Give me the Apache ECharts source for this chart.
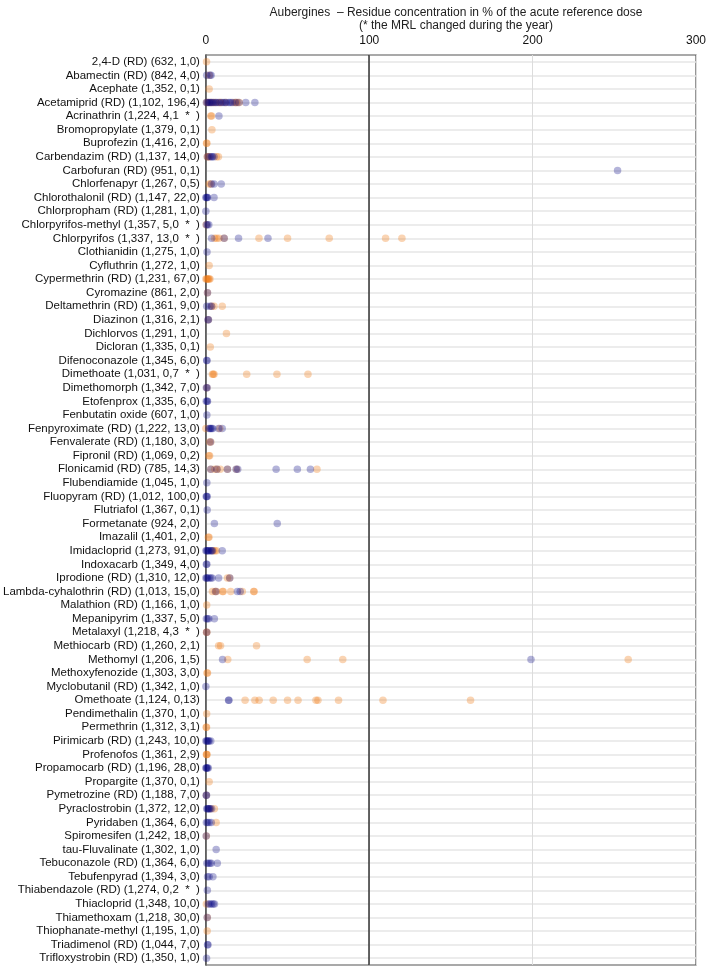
<!DOCTYPE html>
<html>
<head>
<meta charset="utf-8">
<script src="https://cdn.jsdelivr.net/npm/echarts@6/dist/echarts.min.js"></script>
<style>
  html, body { margin: 0; padding: 0; background: #fff; }
  #chart { width: 709px; height: 968px; }
</style>
</head>
<body>
<div id="chart"></div>
<script>
// Pesticide labels (substance, samples, % above LOQ)
const categories = [
  '2,4-D (RD) (632, 1,0)', 'Abamectin (RD) (842, 4,0)', 'Acephate (1,352, 0,1)',
  'Acetamiprid (RD) (1,102, 196,4)', 'Acrinathrin (1,224, 4,1  *  )', 'Bromopropylate (1,379, 0,1)',
  'Buprofezin (1,416, 2,0)', 'Carbendazim (RD) (1,137, 14,0)', 'Carbofuran (RD) (951, 0,1)',
  'Chlorfenapyr (1,267, 0,5)', 'Chlorothalonil (RD) (1,147, 22,0)', 'Chlorpropham (RD) (1,281, 1,0)',
  'Chlorpyrifos-methyl (1,357, 5,0  *  )', 'Chlorpyrifos (1,337, 13,0  *  )', 'Clothianidin (1,275, 1,0)',
  'Cyfluthrin (1,272, 1,0)', 'Cypermethrin (RD) (1,231, 67,0)', 'Cyromazine (861, 2,0)',
  'Deltamethrin (RD) (1,361, 9,0)', 'Diazinon (1,316, 2,1)', 'Dichlorvos (1,291, 1,0)',
  'Dicloran (1,335, 0,1)', 'Difenoconazole (1,345, 6,0)', 'Dimethoate (1,031, 0,7  *  )',
  'Dimethomorph (1,342, 7,0)', 'Etofenprox (1,335, 6,0)', 'Fenbutatin oxide (607, 1,0)',
  'Fenpyroximate (RD) (1,222, 13,0)', 'Fenvalerate (RD) (1,180, 3,0)', 'Fipronil (RD) (1,069, 0,2)',
  'Flonicamid (RD) (785, 14,3)', 'Flubendiamide (1,045, 1,0)', 'Fluopyram (RD) (1,012, 100,0)',
  'Flutriafol (1,367, 0,1)', 'Formetanate (924, 2,0)', 'Imazalil (1,401, 2,0)',
  'Imidacloprid (1,273, 91,0)', 'Indoxacarb (1,349, 4,0)', 'Iprodione (RD) (1,310, 12,0)',
  'Lambda-cyhalothrin (RD) (1,013, 15,0)', 'Malathion (RD) (1,166, 1,0)', 'Mepanipyrim (1,337, 5,0)',
  'Metalaxyl (1,218, 4,3  *  )', 'Methiocarb (RD) (1,260, 2,1)', 'Methomyl (1,206, 1,5)',
  'Methoxyfenozide (1,303, 3,0)', 'Myclobutanil (RD) (1,342, 1,0)', 'Omethoate (1,124, 0,13)',
  'Pendimethalin (1,370, 1,0)', 'Permethrin (1,312, 3,1)', 'Pirimicarb (RD) (1,243, 10,0)',
  'Profenofos (1,361, 2,9)', 'Propamocarb (RD) (1,196, 28,0)', 'Propargite (1,370, 0,1)',
  'Pymetrozine (RD) (1,188, 7,0)', 'Pyraclostrobin (1,372, 12,0)', 'Pyridaben (1,364, 6,0)',
  'Spiromesifen (1,242, 18,0)', 'tau-Fluvalinate (1,302, 1,0)', 'Tebuconazole (RD) (1,364, 6,0)',
  'Tebufenpyrad (1,394, 3,0)', 'Thiabendazole (RD) (1,274, 0,2  *  )', 'Thiacloprid (1,348, 10,0)',
  'Thiamethoxam (1,218, 30,0)', 'Thiophanate-methyl (1,195, 1,0)', 'Triadimenol (RD) (1,044, 7,0)',
  'Trifloxystrobin (RD) (1,350, 1,0)'
];

// % of ARfD, orange series, one list per category (same order)
const orangeValues = [
  [0.4], [2], [2],
  [0.5, 1.5, 3, 4.5, 6, 8.5, 9, 12, 17, 18.5, 19, 20.5], [3, 3.5], [3.7],
  [0.4, 0.6], [0.8, 1.5, 2, 6.5, 7.7], [],
  [2, 3], [], [],
  [0.2], [5.3, 6.5, 8, 11.2, 32.5, 50, 75.5, 110, 120], [],
  [2], [0, 0.5, 1, 1.5, 2, 2.5], [1],
  [3.5, 5, 10], [1.5], [12.6],
  [2.7], [], [4, 4.5, 5, 25, 43.5, 62.5],
  [0.6], [], [],
  [0, 8.5], [2.2, 3], [1.8, 2.3],
  [3, 5.5, 6.8, 8.8, 13.2, 18.8, 68], [], [],
  [], [], [1.5, 1.9],
  [4.5, 5.5, 6.5], [], [13.2, 14.6],
  [4, 5.7, 6.5, 10.2, 10.6, 15.2, 22.3, 29.3, 29.5], [0.5], [],
  [0.4, 0.6], [7.8, 9, 31], [13.4, 62, 83.8, 258.5],
  [0.7, 1], [], [24, 30, 32.6, 41.2, 50, 56.4, 67.4, 68.6, 81.2, 108.4, 162],
  [0.5], [0.2, 0.4], [],
  [0.3, 0.5, 0.7], [], [2],
  [0.3], [2.8, 5.2], [6.3],
  [0.3], [], [],
  [], [], [0.3],
  [0.9], [0.8], [],
  []
];

// % of ARfD, navy series
const navyValues = [
  [], [0.5, 2.5, 3.2], [],
  [0.3, 1, 1.8, 2.5, 3.2, 4, 5, 6, 7, 8, 9.5, 10.5, 11.5, 12.5, 14, 15, 16, 18, 20, 24.4, 30], [8], [],
  [], [1, 2.5, 3.5, 4, 5], [252],
  [3.5, 5, 9.4], [0, 0.3, 0.8, 1, 5], [0],
  [0.3, 1, 1.8], [3.5, 11.2, 20, 38], [0.7],
  [], [], [1],
  [0.5, 2.5, 3.5], [1.3, 1.6], [],
  [], [0.5, 0.7], [],
  [0.3, 0.8], [0.2, 0.8, 1], [0.6],
  [1.8, 2.5, 3, 3.5, 4.2, 7.8, 10], [2.8], [],
  [3, 6.8, 13.2, 18.5, 19.5, 43, 56, 64], [0.6], [0.2, 0.5, 0.8],
  [0.8], [5.2, 43.7], [],
  [0, 0.5, 1, 1.5, 2, 3, 3.5, 4, 10], [0.3, 0.6], [0, 0.5, 1, 2, 3, 3.8, 7.8, 14.6],
  [6, 19.3, 21], [], [0.3, 1, 1.8, 5.2],
  [0.5], [], [10.2, 199],
  [], [0], [13.9, 14.1],
  [], [], [0, 0.5, 1, 1.5, 2, 3],
  [], [0, 0.3, 0.6, 1, 1.5], [],
  [0.2, 0.4], [0.5, 1, 1.5, 2, 2.5, 3.5], [0.3, 1, 2, 3.3],
  [0.2], [6.3], [0.6, 1.5, 2.5, 3.3, 7],
  [1, 2, 4.3], [0.9], [1.5, 2.5, 3.5, 4.5, 5.3],
  [0.8], [], [1, 1.3],
  [0.4]
];

const xTicks = [0, 100, 200, 300];

function toPoints(values) {
  const pts = [];
  values.forEach(function(list, i) {
    list.forEach(function(v) { pts.push([v, i]); });
  });
  return pts;
}

const chart = echarts.init(document.getElementById('chart'));
const font = 'Liberation Sans, Arial, sans-serif';

chart.setOption({
  animation: false,
  title: {
    text: 'Aubergines  \u2013 Residue concentration in % of the acute reference dose\n(* the MRL changed during the year)',
    left: 451,
    textAlign: 'center',
    top: 1,
    textStyle: { fontFamily: font, fontSize: 12, fontWeight: 'normal', color: '#222', lineHeight: 13 }
  },
  grid: {
    left: 204, right: 11, top: 55, bottom: 3,
    show: true, borderColor: '#555', borderWidth: 1.2
  },
  xAxis: {
    type: 'value',
    position: 'top',
    min: xTicks[0],
    max: xTicks[xTicks.length - 1],
    interval: 100,
    axisLine: { show: false },
    axisTick: { show: false },
    axisLabel: { fontFamily: font, fontSize: 12, color: '#111', margin: 8 },
    splitLine: { show: true, lineStyle: { color: '#dcdcdc', width: 1 } }
  },
  yAxis: {
    type: 'category',
    data: categories,
    inverse: true,
    axisLine: { show: true, lineStyle: { color: '#555', width: 1.5 } },
    axisTick: { show: false },
    axisLabel: { interval: 0, fontFamily: font, fontSize: 11.5, color: '#111', margin: 6 },
    splitLine: { show: true, interval: 0, alignWithLabel: true, lineStyle: { color: '#e6e6e6', width: 1.5 } }
  },
  series: [
    {
      name: 'orange',
      type: 'scatter',
      symbolSize: 7.5,
      data: toPoints(orangeValues),
      itemStyle: { color: 'rgba(240,120,20,0.4)' },
      markLine: {
        silent: true,
        symbol: 'none',
        label: { show: false },
        lineStyle: { color: '#333', width: 1.5, type: 'solid' },
        data: [{ xAxis: 100 }]
      }
    },
    {
      name: 'navy',
      type: 'scatter',
      symbolSize: 7.5,
      data: toPoints(navyValues),
      itemStyle: { color: 'rgba(0,0,128,0.37)' }
    }
  ]
});
</script>
</body>
</html>
